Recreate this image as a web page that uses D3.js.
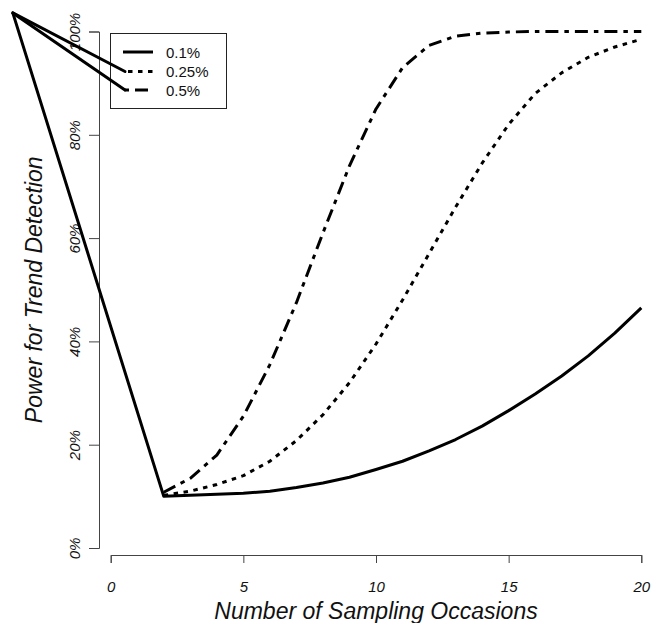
<!DOCTYPE html>
<html>
<head>
<meta charset="utf-8">
<script src="https://cdn.jsdelivr.net/npm/d3@7"></script>
<style>
  html, body { margin: 0; padding: 0; background: #fff; }
  svg { display: block; }
  text { font-family: "Liberation Sans", Arial, Helvetica, sans-serif; }
</style>
</head>
<body>
<svg id="chart" width="652" height="623"></svg>
<script>
// ---- data ----
const occasions = [2,3,4,5,6,7,8,9,10,11,12,13,14,15,16,17,18,19,20];
const power01  = [10,10.2,10.4,10.6,11,11.7,12.6,13.7,15.2,16.8,18.8,21,23.6,26.6,29.8,33.3,37.2,41.6,46.5];
const power025 = [10.2,11,12.3,14,16.8,20.8,25.8,32,39.5,48,57,66,74.5,82,88,92,95,97,98.5];
const power05  = [10.8,13.5,18,25.5,35.5,47.5,61,74,85,93,97.3,99.1,99.7,99.9,100,100,100,100,100];
const seriesNames = ["0.1%", "0.25%", "0.5%"];
const xTicks = [0,5,10,15,20];
const yTicks = [0,20,40,60,80,100];
// stray starting point of the drawn path (outside the plot region), in data units
const strayOrigin = {x: -3.69, y: 103.6};

// ---- layout ----
const svg = d3.select("#chart");
const x = d3.scaleLinear().domain([0,20]).range([110.7, 641.3]);
const y = d3.scaleLinear().domain([0,100]).range([548, 31.5]);
const axisColor = "#444";
const dashes = [null, "4.5,5.5", "13,6,4.5,6"];
const seriesData = [power01, power025, power05];

// axes
const gx = svg.append("g").attr("transform", "translate(0,555)")
  .call(d3.axisBottom(x).tickValues(xTicks).tickSizeOuter(0).tickSize(8).tickFormat(d3.format("d")));
const gy = svg.append("g").attr("transform", "translate(99,0)")
  .call(d3.axisLeft(y).tickValues(yTicks).tickSizeOuter(0).tickSize(10).tickFormat(d => d + "%"));
[gx, gy].forEach(g => {
  g.select(".domain").attr("stroke", axisColor).attr("stroke-width", 1);
  g.selectAll(".tick line").attr("stroke", axisColor).attr("stroke-width", 1);
  g.selectAll("text").attr("fill", "#111").style("font-size", "15px").style("font-style", "italic")
   .style("font-family", "'Liberation Sans', Arial, sans-serif");
});
gx.selectAll(".tick text").attr("y", 0).attr("dy", null).attr("transform", "translate(0,36.5)");
gy.selectAll(".tick text").attr("x", null).attr("dy", null).attr("text-anchor", "middle")
  .attr("transform", "translate(-19,0) rotate(-90)");

// axis titles
svg.append("text").attr("x", (x(0)+x(20))/2).attr("y", 619).attr("text-anchor", "middle")
  .style("font-size", "23px").style("font-style", "italic").attr("fill", "#111")
  .text("Number of Sampling Occasions");
svg.append("text").attr("transform", `translate(42,${(y(0)+y(100))/2}) rotate(-90)`)
  .attr("text-anchor", "middle").style("font-size", "23px").style("font-style", "italic").attr("fill", "#111")
  .text("Power for Trend Detection");

// series lines
const line = d3.line().x(d => x(d[0])).y(d => y(d[1]));
seriesData.forEach((vals, i) => {
  const pts = occasions.map((o, k) => [o, vals[k]]);
  if (i === 0) pts.unshift([strayOrigin.x, strayOrigin.y]);
  svg.append("path").attr("d", line(pts)).attr("fill", "none").attr("stroke", "#000")
    .attr("stroke-width", 3).attr("stroke-linejoin", "round")
    .attr("stroke-dasharray", dashes[i]);
});

// legend
const lg = svg.append("g");
lg.append("rect").attr("x", 110.5).attr("y", 33.5).attr("width", 116).attr("height", 75)
  .attr("fill", "#fff").attr("stroke", "#222").attr("stroke-width", 1);
const rowY = [52, 71.5, 90];
const dashOffsets = [0, -5, 17.5];
seriesNames.forEach((nm, i) => {
  lg.append("line").attr("x1", 123).attr("x2", 153).attr("y1", rowY[i]).attr("y2", rowY[i])
    .attr("stroke", "#000").attr("stroke-width", 3).attr("stroke-dasharray", dashes[i])
    .attr("stroke-dashoffset", dashOffsets[i]);
  lg.append("text").attr("x", 166).attr("y", rowY[i] + 5.5).style("font-size", "15px")
    .attr("fill", "#111").text(nm);
  if (i > 0) {
    lg.append("line").attr("x1", x(strayOrigin.x)).attr("y1", y(strayOrigin.y))
      .attr("x2", 125).attr("y2", rowY[i]).attr("stroke", "#000").attr("stroke-width", 3)
      .attr("stroke-linecap", "round");
  }
});
</script>
</body>
</html>
